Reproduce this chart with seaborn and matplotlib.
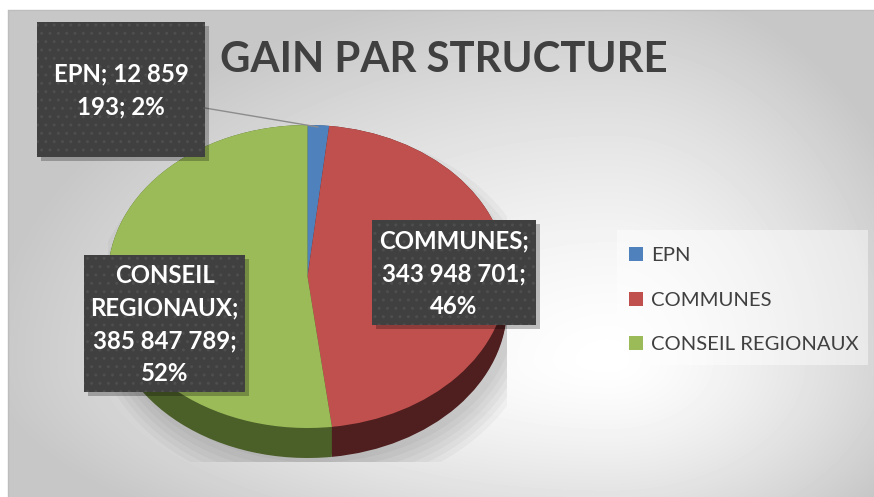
import textwrap
import numpy as np
import matplotlib
matplotlib.use("Agg")
import matplotlib.pyplot as plt
from matplotlib.patches import Rectangle, Ellipse
import seaborn as sns

# data
categories = ["EPN", "COMMUNES", "CONSEIL REGIONAUX"]
values = [12859193, 343948701, 385847789]
title = "GAIN PAR STRUCTURE"

sns.set_style("white")
plt.rcParams["font.family"] = ["Lato", "DejaVu Sans"]
plt.rcParams["hatch.linewidth"] = 1.0

top_colors = sns.color_palette(["#4f81bd", "#c0504d", "#9bbb59"])
side_colors = sns.color_palette(["#2c4a6e", "#4f1e1e", "#4b5f29"])

W, H = 874, 497
fig = plt.figure(figsize=(W / 100, H / 100), dpi=100)

# radial grey background
bg = fig.add_axes([0, 0, 1, 1], zorder=0)
yy, xx = np.mgrid[0:H, 0:W]
cx, cy = 610, 360
sx = np.where(xx < cx, 620, 330)
sy = np.where(yy < cy, 380, 220)
d = np.sqrt(((xx - cx) / sx) ** 2 + ((yy - cy) / sy) ** 2)
shade = 1 - 0.22 * np.clip(d, 0, 1) ** 1.4
shade[:, :8] = 1
shade[:10, :] = 1
bg.imshow(shade, cmap="gray", vmin=0, vmax=1, extent=(0, W, H, 0),
          aspect="auto", interpolation="bilinear")
bg.plot([8, W], [10, 10], color="#bdbdbd", lw=1)
bg.plot([8, 8], [10, H], color="#bdbdbd", lw=1)
bg.set_xlim(0, W)
bg.set_ylim(H, 0)
bg.axis("off")

# pie, squashed to look tilted
pie_ax = fig.add_axes([108 / W, 1 - 462 / H, 399 / W, 337 / H], zorder=1)
ry_px = 151.5
depth = 30 / ry_px
ylim = (1 - 337 / ry_px, 1)

for k in range(6):
    pie_ax.add_patch(Ellipse((0.04, -depth - 0.03), 2.0 + 0.05 * k, 2.0 + 0.08 * k,
                             color="black", alpha=0.03, lw=0))

for off in np.linspace(depth, 0, 20):
    pie_ax.pie(values, colors=side_colors, startangle=90, counterclock=False,
               center=(0, -off), wedgeprops=dict(linewidth=0))

wedges, _ = pie_ax.pie(values, colors=top_colors, startangle=90, counterclock=False,
                       wedgeprops=dict(linewidth=0))
pie_ax.set_aspect("auto")
pie_ax.set_xlim(-1, 1)
pie_ax.set_ylim(*ylim)
pie_ax.axis("off")

# overlay for labels, title, legend
ov = fig.add_axes([0, 0, 1, 1], zorder=2)
ov.patch.set_alpha(0)
ov.set_xlim(0, W)
ov.set_ylim(H, 0)
ov.axis("off")

ov.text(444, 60, title, fontsize=30.2, fontweight="bold", color="#404040",
        ha="center", va="center")

total = sum(values)
boxes = [(37, 22, 168, 135), (372, 220, 164, 105), (84, 255, 161, 137)]
ov.plot([205, 318], [108, 127], color="#8c8c8c", lw=1, zorder=3)
for cat, val, (bx, by, bw, bh) in zip(categories, values, boxes):
    ov.add_patch(Rectangle((bx + 4, by + 4), bw, bh, color="black", alpha=0.25, lw=0, zorder=4))
    ov.add_patch(Rectangle((bx, by), bw, bh, facecolor="#404040", edgecolor="#4e4e4e",
                           hatch="..", lw=0, zorder=5))
    txt = f"{cat}; {val:,}; {val / total:.0%}".replace(",", " ")
    txt = "\n".join(textwrap.wrap(txt, 12))
    ov.text(bx + bw / 2, by + bh / 2 + 1, txt, color="white", fontsize=17.3, fontweight="bold",
            ha="center", va="center", linespacing=1.52, zorder=6)

ov.add_patch(Rectangle((617, 230), 251, 135, facecolor="white", alpha=0.45, lw=0, zorder=3))
leg = ov.legend(wedges, categories, loc="upper left",
                bbox_to_anchor=(629 / W, 1 - 247 / H), bbox_transform=fig.transFigure,
                frameon=False, fontsize=14.6, handlelength=0.7, handleheight=0.7,
                handletextpad=0.4, labelspacing=1.35, borderpad=0, borderaxespad=0)
for t in leg.get_texts():
    t.set_color("#404040")

fig.savefig("out.png", dpi=100)
